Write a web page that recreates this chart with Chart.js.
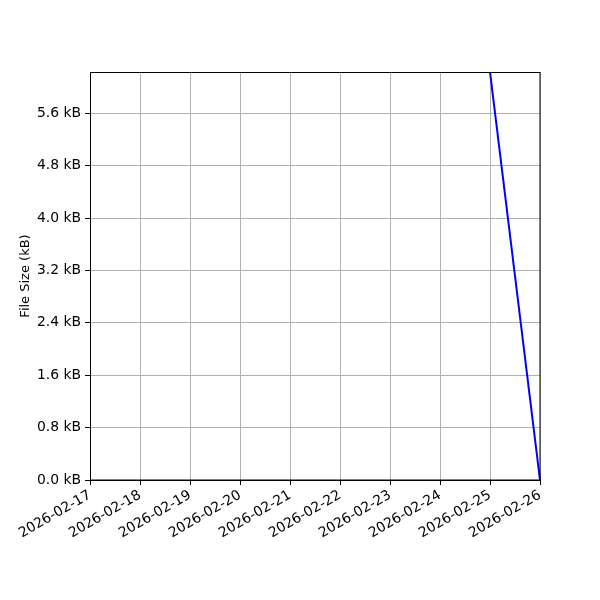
<!DOCTYPE html>
<html><head><meta charset="utf-8">
<script src="https://cdn.jsdelivr.net/npm/chart.js@4/dist/chart.umd.min.js"></script>
<style>html,body{margin:0;padding:0;background:#fff}#w{width:600px;height:600px}</style>
</head><body><div id="w"><canvas id="c" width="600" height="600"></canvas></div>
<script>
const dates = ["2026-02-17","2026-02-18","2026-02-19","2026-02-20","2026-02-21","2026-02-22","2026-02-23","2026-02-24","2026-02-25","2026-02-26"];
const sizesKB = [null,null,null,null,null,null,null,null,6.23,0];
const yMin = 0, yMax = 6.23, yStep = 0.8;
const yLabel = "File Size (kB)";

const frame = {
  id:'frame',
  afterDraw(chart){
    const {ctx, chartArea:a} = chart;
    ctx.save(); ctx.strokeStyle='#000'; ctx.lineWidth=1;
    ctx.strokeRect(a.left+0.5, a.top+0.5, a.right-a.left-1+0.5, a.bottom-a.top-0.5);
    ctx.restore();
  }
};
const font = {family:'"DejaVu Sans"', size:13.9};
new Chart(document.getElementById('c'), {
  type:'line',
  data:{labels:dates, datasets:[{data:sizesKB, borderColor:'#0000ff', borderWidth:2, pointRadius:0, fill:false, tension:0, spanGaps:false}]},
  options:{
    responsive:false, animation:false, devicePixelRatio:1,
    layout:{padding:{top:72,right:60,left:18,bottom:0}},
    plugins:{legend:{display:false}, tooltip:{enabled:false}},
    scales:{
      x:{type:'category', offset:false,
        grid:{color:'#b0b0b0', tickColor:'#000', tickLength:5, lineWidth:1},
        border:{color:'#000'},
        ticks:{color:'#000', font, minRotation:30, maxRotation:30, autoSkip:false, padding:2},
        afterFit(s){s.height=120;}
      },
      y:{min:yMin, max:yMax,
        grid:{color:'#b0b0b0', tickColor:'#000', tickLength:5, lineWidth:1},
        border:{color:'#000'},
        ticks:{color:'#000', font, stepSize:yStep, padding:4, callback:v=>v.toFixed(1)+' kB'},
        afterBuildTicks(s){ s.ticks = s.ticks.filter(t=>Math.abs(t.value/yStep-Math.round(t.value/yStep))<1e-6); },
        title:{display:true, text:yLabel, color:'#000', font:{family:'"DejaVu Sans"', size:13}, padding:{top:0,bottom:4}},
        afterFit(s){s.width=72;}
      }
    }
  },
  plugins:[frame]
});
</script></body></html>
